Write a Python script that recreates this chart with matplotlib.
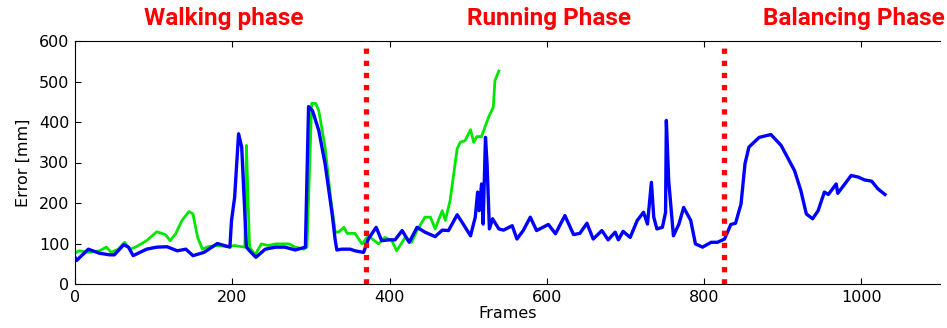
"""
Tracking error per frame over the walking, running and balancing phases.
"""
import matplotlib
matplotlib.use('Agg')
import matplotlib.pyplot as plt

# green curve (only up to the middle of the running phase)
green_x = [0, 5, 18, 31, 40, 46, 55, 63, 70, 78, 91, 104, 115, 121, 128, 136, 145, 150,
           156, 162, 169, 181, 194, 203, 212, 216, 218, 220, 222, 229, 237, 246, 255, 272,
           280, 291, 295, 301, 306, 310, 318, 325, 331, 335, 342, 346, 356, 365, 373, 386,
           394, 403, 409, 420, 428, 435, 445, 452, 458, 467, 471, 477, 486, 490, 496, 503,
           507, 511, 517, 526, 532, 534, 539]
green_y = [76, 82, 78, 82, 91, 78, 86, 103, 86, 92, 107, 129, 122, 107, 124, 157, 179, 173,
           115, 86, 92, 95, 92, 95, 92, 91, 342, 214, 91, 72, 99, 95, 99, 99,
           91, 86, 91, 446, 446, 428, 338, 214, 128, 128, 140, 125, 125, 99, 119, 99,
           115, 107, 82, 115, 103, 132, 165, 165, 136, 181, 157, 206, 334, 350, 354, 381,
           350, 364, 364, 412, 437, 502, 526]

# blue curve (whole sequence)
blue_x = [0, 2, 17, 31, 44, 50, 62, 68, 74, 91, 104, 117, 130, 141, 150, 164, 181, 197,
          199, 203, 208, 212, 218, 222, 230, 242, 255, 267, 280, 293, 297, 302, 310, 318,
          327, 331, 333, 339, 350, 356, 367, 373, 383, 390, 399, 407, 416, 425, 435, 445,
          458, 467, 475, 486, 494, 503, 509, 512, 514, 517, 519, 522, 524, 527, 531, 539,
          545, 556, 562, 570, 579, 587, 602, 611, 623, 634, 642, 651, 659, 670, 678, 687,
          691, 697, 706, 715, 723, 728, 733, 736, 740, 747, 751, 752, 755, 761, 768, 774,
          783, 789, 798, 809, 817, 826, 834, 840, 847, 852, 857, 870, 885, 898, 915, 923,
          930, 938, 945, 953, 958, 968, 970, 979, 987, 996, 1004, 1013, 1021, 1030]
blue_y = [66, 58, 86, 76, 72, 72, 97, 91, 70, 86, 91, 92, 82, 86, 70, 78, 100, 91,
          156, 214, 371, 338, 91, 82, 66, 86, 91, 91, 84, 91, 438, 428, 379, 297,
          173, 107, 84, 86, 86, 82, 78, 111, 140, 107, 109, 109, 132, 103, 140, 128,
          117, 133, 132, 171, 147, 119, 165, 227, 181, 247, 148, 362, 297, 136, 161, 136,
          133, 144, 111, 132, 165, 132, 147, 124, 169, 122, 125, 150, 111, 132, 109, 128,
          109, 130, 115, 157, 177, 148, 251, 165, 136, 140, 177, 404, 255, 119, 148, 189,
          157, 99, 91, 103, 103, 111, 147, 150, 198, 297, 338, 362, 369, 342, 280, 231,
          173, 161, 181, 227, 221, 247, 224, 247, 268, 264, 257, 254, 235, 221]

# phase boundaries and labels
phase_bounds = [370, 825]
phase_names = ['Walking phase', 'Running Phase', 'Balancing Phase']
phase_label_x = [224, 549, 854]  # figure pixels

W, H = 947, 328
fig = plt.figure(figsize=(W / 100, H / 100), dpi=100)
ax = fig.add_axes([75 / W, 1 - 284 / H, 865 / W, 243 / H])

ax.plot(green_x, green_y, color='#00e600', lw=2.0)
ax.plot(blue_x, blue_y, color='#0000ff', lw=2.4)
for b in phase_bounds:
    ax.axvline(b, color='#ff0000', lw=3.8, linestyle=(0, (1, 1.3)),
               dash_capstyle='butt', zorder=3)

ax.set_xlim(0, 1100)
ax.set_ylim(0, 600)
ax.set_xticks([0, 200, 400, 600, 800, 1000])
ax.set_yticks([0, 100, 200, 300, 400, 500, 600])
ax.tick_params(direction='in', length=4, width=0.8, top=True, labelsize=11.5,
               pad=4)
ax.spines['right'].set_visible(False)
ax.set_xlabel('Frames', fontsize=11.5, labelpad=1)
ax.set_ylabel('Error [mm]', fontsize=11.5, labelpad=6)

for name, px in zip(phase_names, phase_label_x):
    fig.text(px / W, 1 - 19 / H, name, color='#ff0000', fontsize=17.5, fontweight='bold',
             ha='center', va='center', family=['Roboto', 'DejaVu Sans'])

fig.savefig('out.png', dpi=100)
